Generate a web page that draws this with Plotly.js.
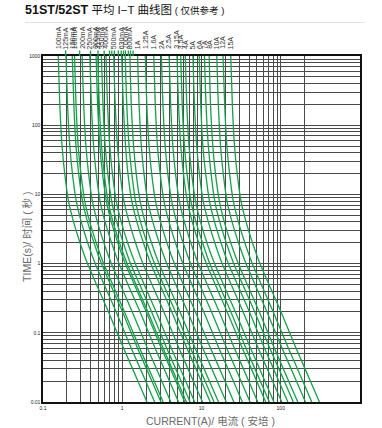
<!DOCTYPE html>
<html><head><meta charset="utf-8">
<script src="https://cdn.plot.ly/plotly-3.0.1.min.js"></script>
<style>html,body{margin:0;padding:0;background:#fff;}#chart{width:382px;height:428px;}</style>
</head><body><div id="chart"></div>
<script>
// time points (s) at which each curve's current was read
const times = [1000, 200, 50, 20, 8, 4, 2, 1, 0.5, 0.2, 0.06, 0.02, 0.01];

const curveLabels = ["100mA","125mA","150mA","160mA","200mA","250mA","300mA","315mA","350mA","400mA",
  "500mA","630mA","700mA","800mA","1A","1.25A","1.6A","2A","2.5A","3.15A","3.5A","4A","5A","6A","7A",
  "8A","10A","12A","15A"];

// currents (A) read at the time points above
const c100mA = [0.156, 0.163, 0.174, 0.188, 0.21, 0.243, 0.293, 0.364, 0.473, 0.671, 1.04, 1.58, 2.05];
const c125mA = [0.195, 0.204, 0.218, 0.235, 0.263, 0.304, 0.366, 0.455, 0.591, 0.839, 1.3, 1.98, 2.56];
const c150mA = [0.234, 0.245, 0.261, 0.282, 0.315, 0.365, 0.44, 0.546, 0.71, 1.01, 1.56, 2.37, 3.08];
const c160mA = [0.25, 0.261, 0.278, 0.301, 0.336, 0.389, 0.469, 0.582, 0.757, 1.07, 1.66, 2.53, 3.28];
const c200mA = [0.312, 0.326, 0.348, 0.376, 0.42, 0.486, 0.586, 0.728, 0.946, 1.34, 2.08, 3.16, 4.1];
const c250mA = [0.39, 0.408, 0.435, 0.47, 0.525, 0.608, 0.733, 0.91, 1.18, 1.68, 2.6, 3.95, 5.13];
const c300mA = [0.468, 0.489, 0.522, 0.564, 0.63, 0.729, 0.879, 1.09, 1.42, 2.01, 3.12, 4.74, 6.15];
const c315mA = [0.491, 0.513, 0.548, 0.592, 0.662, 0.765, 0.923, 1.15, 1.49, 2.11, 3.28, 4.98, 6.46];
const c350mA = [0.546, 0.571, 0.609, 0.658, 0.735, 0.851, 1.03, 1.27, 1.66, 2.35, 3.64, 5.53, 7.18];
const c400mA = [0.624, 0.652, 0.696, 0.752, 0.84, 0.972, 1.17, 1.46, 1.89, 2.68, 4.16, 6.32, 8.2];
const c500mA = [0.78, 0.815, 0.87, 0.94, 1.05, 1.22, 1.47, 1.82, 2.37, 3.36, 5.2, 7.9, 10.3];
const c630mA = [0.983, 1.03, 1.1, 1.18, 1.32, 1.53, 1.85, 2.29, 2.98, 4.23, 6.55, 9.95, 12.9];
const c700mA = [1.09, 1.14, 1.22, 1.32, 1.47, 1.7, 2.05, 2.55, 3.31, 4.7, 7.28, 11.1, 14.4];
const c800mA = [1.25, 1.3, 1.39, 1.5, 1.68, 1.94, 2.34, 2.91, 3.78, 5.37, 8.32, 12.6, 16.4];
const c1A    = [1.56, 1.63, 1.74, 1.88, 2.1, 2.43, 2.93, 3.64, 4.73, 6.71, 10.4, 15.8, 20.5];
const c1_25A = [1.95, 2.04, 2.18, 2.35, 2.63, 3.04, 3.66, 4.55, 5.91, 8.39, 13, 19.8, 25.6];
const c1_6A  = [2.5, 2.61, 2.78, 3.01, 3.36, 3.89, 4.69, 5.82, 7.57, 10.7, 16.6, 25.3, 32.8];
const c2A    = [3.12, 3.26, 3.48, 3.76, 4.2, 4.86, 5.86, 7.28, 9.46, 13.4, 20.8, 31.6, 41];
const c2_5A  = [3.9, 4.08, 4.35, 4.7, 5.25, 6.08, 7.33, 9.1, 11.8, 16.8, 26, 39.5, 51.3];
const c3_15A = [4.91, 5.13, 5.48, 5.92, 6.62, 7.65, 9.23, 11.5, 14.9, 21.1, 32.8, 49.8, 64.6];
const c3_5A  = [5.46, 5.71, 6.09, 6.58, 7.35, 8.51, 10.3, 12.7, 16.6, 23.5, 36.4, 55.3, 71.8];
const c4A    = [6.24, 6.52, 6.96, 7.52, 8.4, 9.72, 11.7, 14.6, 18.9, 26.8, 41.6, 63.2, 82];
const c5A    = [7.8, 8.15, 8.7, 9.4, 10.5, 12.2, 14.7, 18.2, 23.7, 33.6, 52, 79, 103];
const c6A    = [9.36, 9.78, 10.4, 11.3, 12.6, 14.6, 17.6, 21.8, 28.4, 40.3, 62.4, 94.8, 123];
const c7A    = [10.9, 11.4, 12.2, 13.2, 14.7, 17, 20.5, 25.5, 33.1, 47, 72.8, 111, 144];
const c8A    = [12.5, 13, 13.9, 15, 16.8, 19.4, 23.4, 29.1, 37.8, 53.7, 83.2, 126, 164];
const c10A   = [15.6, 16.3, 17.4, 18.8, 21, 24.3, 29.3, 36.4, 47.3, 67.1, 104, 158, 205];
const c12A   = [18.7, 19.6, 20.9, 22.6, 25.2, 29.2, 35.2, 43.7, 56.8, 80.5, 125, 190, 246];
const c15A   = [23.4, 24.5, 26.1, 28.2, 31.5, 36.5, 44, 54.6, 71, 101, 156, 237, 308];

const curves = [c100mA,c125mA,c150mA,c160mA,c200mA,c250mA,c300mA,c315mA,c350mA,c400mA,
  c500mA,c630mA,c700mA,c800mA,c1A,c1_25A,c1_6A,c2A,c2_5A,c3_15A,c3_5A,c4A,c5A,c6A,c7A,
  c8A,c10A,c12A,c15A];

const xTickVals = [0.1, 1, 10, 100];
const xTickText = ["0.1", "1", "10", "100"];
const yTickVals = [0.01, 0.1, 1, 10, 100, 1000];
const yTickText = ["0.01", "0.1", "1", "10", "100", "1000"];
const xMinorVals = [0.2,0.3,0.4,0.5,0.6,0.7,0.8,0.9, 2,3,4,5,6,7,8,9, 20,30,40,50,60,70,80,90, 200];
const yMinorVals = [];
[0.01, 0.1, 1, 10, 100].forEach(d => { for (let k = 2; k <= 9; k++) yMinorVals.push(+(d * k).toPrecision(3)); });

const xTitle = 'CURRENT(A)/ 电流 ( 安培 )';
const yTitle = 'TIME(s)/ 时间 ( 秒 )';

const GREEN = '#17a04a';
const GRID = '#4a4a4a';

const traces = curves.map((c, i) => ({
  type: 'scatter', mode: 'lines', x: c, y: times, name: curveLabels[i],
  line: {color: GREEN, width: 1.3, shape: 'spline', smoothing: 0.6},
  hoverinfo: 'name', showlegend: false
}));

const labelFont = {family: 'Liberation Sans Narrow, Liberation Sans, Arial, sans-serif', size: 7, color: '#333'};
const titleFont = {family: 'Liberation Sans, Noto Sans CJK SC, sans-serif', size: 10.5, color: '#6a6a6a'};

const annotations = curves.map((c, i) => ({
  text: curveLabels[i], x: Math.log10(c[0]), xref: 'x', y: 1.014, yref: 'paper',
  xanchor: 'center', yanchor: 'bottom', textangle: -90, showarrow: false, font: labelFont
}));
annotations.push({text: yTitle, xref: 'paper', yref: 'paper', x: -0.0505, y: 0.477,
  xanchor: 'center', yanchor: 'middle', textangle: -90, showarrow: false, font: titleFont});
annotations.push({text: xTitle, xref: 'paper', yref: 'paper', x: 0.527, y: -0.055,
  xanchor: 'center', yanchor: 'middle', showarrow: false, font: titleFont});

const shapes = curves.map(c => ({
  type: 'line', xref: 'x', yref: 'paper', x0: Math.log10(c[0]), x1: Math.log10(c[0]),
  y0: 1, y1: 1.016, line: {color: GREEN, width: 1.3}
}));
shapes.push({type: 'line', xref: 'paper', yref: 'paper', x0: -0.057, x1: 1.016, y0: 1.097, y1: 1.097,
  line: {color: '#e2e2e2', width: 1}});

const axisFont = {family: 'Liberation Sans, Arial, sans-serif', size: 5, color: '#222'};

const layout = {
  width: 382, height: 428,
  margin: {l: 43, r: 22, t: 56, b: 26},
  paper_bgcolor: '#fff', plot_bgcolor: '#fff',
  title: {
    text: '<b><span style="font-size:12.5px">51ST/52ST</span></b> 平均 I−T 曲线图<span style="font-size:9.5px"> ( 仅供参考 )</span>',
    xref: 'container', x: 25/382, xanchor: 'left',
    yref: 'container', y: 1 - 10/428, yanchor: 'middle',
    font: {family: 'Liberation Sans, Noto Sans CJK SC, sans-serif', size: 11.5, color: '#111'}
  },
  xaxis: {
    type: 'log', range: [-1, 3], tickmode: 'array', tickvals: xTickVals, ticktext: xTickText,
    ticks: '', tickfont: axisFont, showgrid: true, gridcolor: GRID, gridwidth: 1,
    minor: {tickmode: 'array', tickvals: xMinorVals, showgrid: true, gridcolor: GRID, gridwidth: 1, ticks: ''},
    showline: true, mirror: true, linecolor: '#111', linewidth: 1.6, zeroline: false,
    automargin: false
  },
  yaxis: {
    type: 'log', range: [-2, 3], tickmode: 'array', tickvals: yTickVals, ticktext: yTickText,
    ticks: '', tickfont: axisFont, showgrid: true, gridcolor: GRID, gridwidth: 1,
    minor: {tickmode: 'array', tickvals: yMinorVals, showgrid: true, gridcolor: GRID, gridwidth: 1, ticks: ''},
    showline: true, mirror: true, linecolor: '#111', linewidth: 1.6, zeroline: false,
    automargin: false
  },
  annotations: annotations,
  shapes: shapes
};

Plotly.newPlot('chart', traces, layout, {displayModeBar: false, staticPlot: true});
</script>
</body></html>
